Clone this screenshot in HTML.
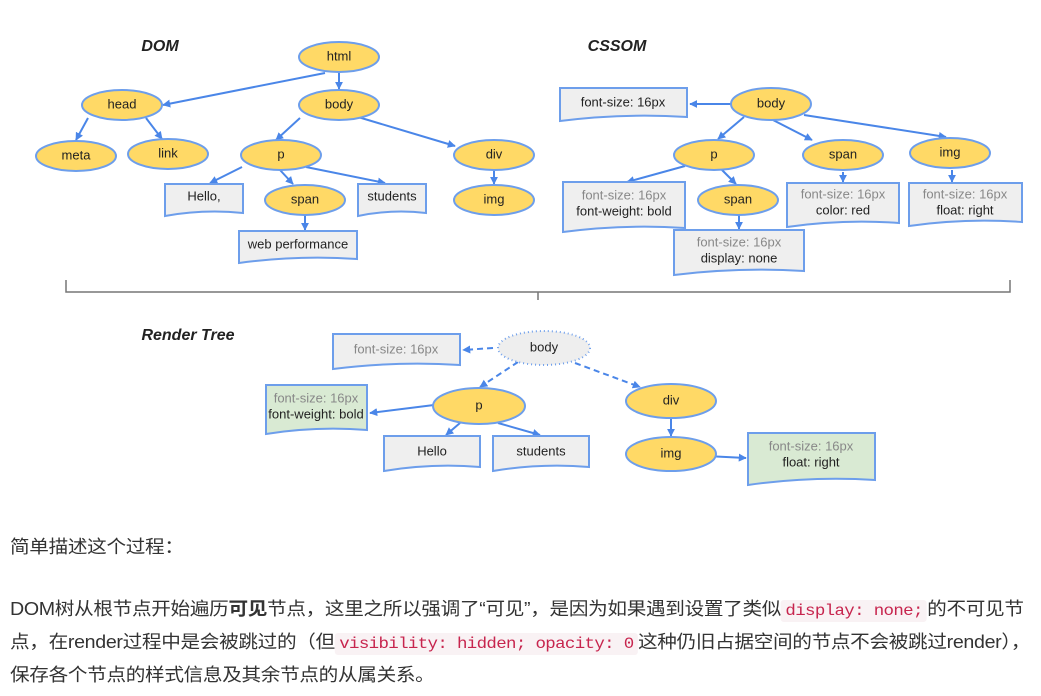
<!DOCTYPE html>
<html><head><meta charset="utf-8"><style>
body{margin:0;width:1041px;height:696px;background:#fff;overflow:hidden;font-family:"Liberation Sans","Noto Sans CJK SC",sans-serif;}
svg{position:absolute;left:0;top:0}
svg text{font-family:"Liberation Sans",sans-serif;font-size:13px;fill:#222;text-anchor:middle;dominant-baseline:middle}
.t{position:absolute;left:10px;font-size:18px;color:#333;white-space:nowrap;letter-spacing:-0.3px;transform:scaleX(1.09);transform-origin:0 0}
code{font-family:"Liberation Mono","DejaVu Sans Mono",monospace;color:#c7254e;background:#f9f2f4;font-size:16px;padding:2px 4px;border-radius:3px;letter-spacing:-0.6px}
</style></head><body>
<svg width="1041" height="530" viewBox="0 0 1041 530">
<defs>
<marker id="a" viewBox="0 0 10 10" refX="9" refY="5" markerWidth="4" markerHeight="4" orient="auto"><path d="M0 0L10 5L0 10z" fill="#4a86e8"/></marker>
</defs>
<g stroke="#4a86e8" stroke-width="2" fill="none" marker-end="url(#a)">
<line x1="325" y1="73" x2="163" y2="105"/>
<line x1="339" y1="73" x2="339" y2="89"/>
<line x1="88" y1="118" x2="76" y2="140"/>
<line x1="146" y1="118" x2="162" y2="139"/>
<line x1="300" y1="118" x2="276" y2="140"/>
<line x1="358" y1="117" x2="455" y2="146"/>
<line x1="242" y1="167" x2="210" y2="183"/>
<line x1="280" y1="170" x2="293" y2="184"/>
<line x1="306" y1="167" x2="385" y2="183"/>
<line x1="305" y1="215" x2="305" y2="230"/>
<line x1="494" y1="170" x2="494" y2="184"/>
<line x1="731" y1="104" x2="690" y2="104"/>
<line x1="744" y1="117" x2="718" y2="139"/>
<line x1="773" y1="120" x2="812" y2="140"/>
<line x1="804" y1="115" x2="946" y2="137"/>
<line x1="685" y1="166" x2="627" y2="182"/>
<line x1="722" y1="170" x2="736" y2="184"/>
<line x1="739" y1="215" x2="739" y2="229"/>
<line x1="843" y1="172" x2="843" y2="182"/>
<line x1="952" y1="170" x2="952" y2="182"/>
<line x1="493" y1="348" x2="463" y2="350" stroke-dasharray="6 4"/>
<line x1="518" y1="362" x2="480" y2="387" stroke-dasharray="6 4"/>
<line x1="575" y1="363" x2="640" y2="387" stroke-dasharray="6 4"/>
<line x1="434" y1="405" x2="370" y2="413"/>
<line x1="460" y1="423" x2="446" y2="435"/>
<line x1="498" y1="423" x2="540" y2="435"/>
<line x1="671" y1="418" x2="671" y2="436"/>
<line x1="706" y1="456" x2="746" y2="458"/>
</g>
<path d="M66 280 V292 H1010 V280 M538 292 V300" stroke="#777" stroke-width="1.5" fill="none"/>
<text x="160" y="47" style="font-size:16px;font-weight:bold;font-style:italic">DOM</text>
<text x="617" y="47" style="font-size:16px;font-weight:bold;font-style:italic">CSSOM</text>
<text x="188" y="336" style="font-size:16px;font-weight:bold;font-style:italic">Render Tree</text>
<g fill="#ffd966" stroke="#6d9eeb" stroke-width="2">
<ellipse cx="339" cy="57" rx="40" ry="15"/>
<ellipse cx="122" cy="105" rx="40" ry="15"/>
<ellipse cx="339" cy="105" rx="40" ry="15"/>
<ellipse cx="76" cy="156" rx="40" ry="15"/>
<ellipse cx="168" cy="154" rx="40" ry="15"/>
<ellipse cx="281" cy="155" rx="40" ry="15"/>
<ellipse cx="494" cy="155" rx="40" ry="15"/>
<ellipse cx="305" cy="200" rx="40" ry="15"/>
<ellipse cx="494" cy="200" rx="40" ry="15"/>
<ellipse cx="771" cy="104" rx="40" ry="16"/>
<ellipse cx="714" cy="155" rx="40" ry="15"/>
<ellipse cx="843" cy="155" rx="40" ry="15"/>
<ellipse cx="950" cy="153" rx="40" ry="15"/>
<ellipse cx="738" cy="200" rx="40" ry="15"/>
<ellipse cx="479" cy="406" rx="46" ry="18"/>
<ellipse cx="671" cy="401" rx="45" ry="17"/>
<ellipse cx="671" cy="454" rx="45" ry="17"/>
</g>
<ellipse cx="544" cy="348" rx="46" ry="17" fill="#eeeeee" stroke="#6d9eeb" stroke-width="2" stroke-dasharray="1 3"/>
<g stroke="#6d9eeb" stroke-width="2">
<path fill="#efefef" d="M165 184H243V213Q204 209 165 216Z"/>
<path fill="#efefef" d="M358 184H426V213Q392 209 358 216Z"/>
<path fill="#efefef" d="M239 231H357V259Q298 255 239 263Z"/>
<path fill="#efefef" d="M560 88H687V117Q623 113 560 121Z"/>
<path fill="#efefef" d="M563 182H685V228Q624 224 563 232Z"/>
<path fill="#efefef" d="M674 230H804V271Q739 267 674 275Z"/>
<path fill="#efefef" d="M787 183H899V223Q843 219 787 227Z"/>
<path fill="#efefef" d="M909 183H1022V222Q965 218 909 226Z"/>
<path fill="#efefef" d="M333 334H460V365Q396 361 333 369Z"/>
<path fill="#efefef" d="M384 436H480V467Q432 463 384 471Z"/>
<path fill="#efefef" d="M493 436H589V467Q541 463 493 471Z"/>
<path fill="#d9ead3" d="M266 385H367V430Q316 426 266 434Z"/>
<path fill="#d9ead3" d="M748 433H875V480Q811 476 748 485Z"/>
</g>
<text x="339" y="57">html</text><text x="122" y="105">head</text><text x="339" y="105">body</text>
<text x="76" y="156">meta</text><text x="168" y="154">link</text><text x="281" y="155">p</text>
<text x="494" y="155">div</text><text x="305" y="200">span</text><text x="494" y="200">img</text>
<text x="204" y="197">Hello,</text><text x="392" y="197">students</text><text x="298" y="245">web performance</text>
<text x="771" y="104">body</text><text x="714" y="155">p</text><text x="843" y="155">span</text><text x="950" y="153">img</text><text x="738" y="200">span</text>
<text x="623" y="103">font-size: 16px</text>
<text x="624" y="196" style="fill:#888">font-size: 16px</text><text x="624" y="212">font-weight: bold</text>
<text x="739" y="243" style="fill:#888">font-size: 16px</text><text x="739" y="259">display: none</text>
<text x="843" y="195" style="fill:#888">font-size: 16px</text><text x="843" y="211">color: red</text>
<text x="965" y="195" style="fill:#888">font-size: 16px</text><text x="965" y="211">float: right</text>
<text x="544" y="348">body</text><text x="396" y="350" style="fill:#888">font-size: 16px</text>
<text x="479" y="406">p</text><text x="671" y="401">div</text><text x="671" y="454">img</text>
<text x="316" y="399" style="fill:#888">font-size: 16px</text><text x="316" y="415">font-weight: bold</text>
<text x="432" y="452">Hello</text><text x="541" y="452">students</text>
<text x="811" y="447" style="fill:#888">font-size: 16px</text><text x="811" y="463">float: right</text>
</svg>
<div class="t" style="top:533px">简单描述这个过程：</div>
<div class="t" style="top:595px">DOM树从根节点开始遍历<b>可见</b>节点，这里之所以强调了“可见”，是因为如果遇到设置了类似<code>display: none;</code>的不可见节</div>
<div class="t" style="top:628px">点，在render过程中是会被跳过的（但<code>visibility: hidden; opacity: 0</code>这种仍旧占据空间的节点不会被跳过render），</div>
<div class="t" style="top:661px">保存各个节点的样式信息及其余节点的从属关系。</div>
</body></html>
